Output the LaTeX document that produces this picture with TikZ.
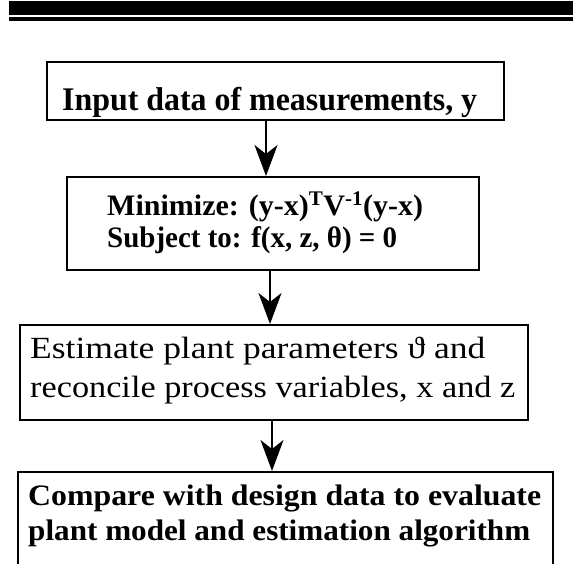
\documentclass[tikz,border=0pt]{standalone}
\usepackage{fontspec}
\setmainfont{Liberation Serif}
\usetikzlibrary{arrows.meta}
\tikzset{
  box/.style={draw, line width=2pt, inner sep=0pt},
  txt/.style={anchor=base west, inner sep=0pt},
  arr/.style={line width=2pt, -{Stealth[length=31pt, width=23pt, inset=9pt]}},
  bar/.style={fill=black}
}
\newcommand{\fitw}[2]{\resizebox{#1}{1.1\height}{#2}}
\begin{document}
\begin{tikzpicture}[x=1pt,y=-1pt]
\useasboundingbox (0,0) rectangle (573,563);
\clip (0,0) rectangle (573,563);
% top bars
\fill[bar] (9,1) rectangle (573,15);
\fill[bar] (9,17) rectangle (573,21);
% boxes
\node[box, minimum width=457pt, minimum height=58pt] (b1) at (275.5,91) {};
\node[box, minimum width=412pt, minimum height=93pt] (b2) at (273,223.5) {};
\node[box, minimum width=508pt, minimum height=95pt] (b3) at (274,372.5) {};
\node[box, minimum width=535pt, minimum height=130pt, anchor=north] (b4) at (285.5,471) {};
% texts
\node[txt] (t1) at (62,110) {\fitw{415pt}{\fontsize{30}{33}\selectfont\bfseries Input data of measurements, y}};
\node[txt] (t2a) at (107,215) {\fitw{316pt}{\fontsize{27}{30}\selectfont\bfseries Minimize: (y-x)\textsuperscript{T}V\textsuperscript{-1}(y-x)}};
\node[txt] (t2b) at (107,247) {\fitw{290pt}{\fontsize{27}{30}\selectfont\bfseries Subject to: f(x, z, θ) = 0}};
\node[txt] (t3a) at (30,358) {\fitw{455pt}{\fontsize{28}{31}\selectfont Estimate plant parameters ϑ and}};
\node[txt] (t3b) at (30,397) {\fitw{485pt}{\fontsize{28}{31}\selectfont reconcile process variables, x and z}};
\node[txt] (t4a) at (28,505) {\fitw{513pt}{\fontsize{27}{30}\selectfont\bfseries Compare with design data to evaluate}};
\node[txt] (t4b) at (28,540) {\fitw{502pt}{\fontsize{27}{30}\selectfont\bfseries plant model and estimation algorithm}};
% arrows
\coordinate (x1) at (266,0);
\coordinate (x2) at (270,0);
\coordinate (x3) at (272,0);
\draw[arr] (b1.south -| x1) -- (b2.north -| x1);
\draw[arr] (b2.south -| x2) -- (b3.north -| x2);
\draw[arr] (b3.south -| x3) -- (b4.north -| x3);
\end{tikzpicture}
\end{document}
